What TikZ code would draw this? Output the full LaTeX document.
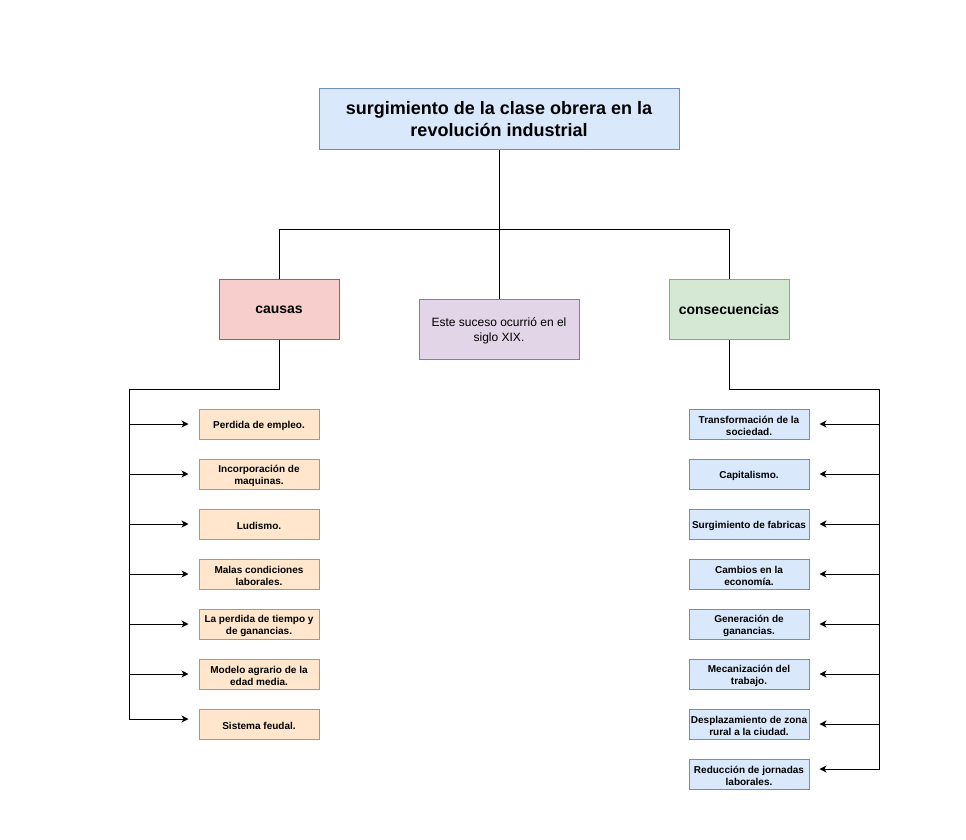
\documentclass[tikz,border=0pt]{standalone}
\usepackage{fontspec}
\setmainfont{Liberation Sans}
\usetikzlibrary{arrows.meta}
\definecolor{bluefill}{HTML}{DAE8FC}\definecolor{bluedraw}{HTML}{6C8EBF}
\definecolor{redfill}{HTML}{F8CECC}\definecolor{reddraw}{HTML}{B85450}
\definecolor{purplefill}{HTML}{E1D5E7}\definecolor{purpledraw}{HTML}{9673A6}
\definecolor{greenfill}{HTML}{D5E8D4}\definecolor{greendraw}{HTML}{82B366}
\definecolor{orangefill}{HTML}{FFE6CC}\definecolor{orangedraw}{HTML}{D79B00}
% invisible strut that sets the height of a first text line
\newcommand\lift[1]{\rule{0pt}{#1}}
\newcommand\ilift{\lift{11pt}}
\begin{document}
\begin{tikzpicture}[x=1pt,y=-1pt,
  base/.style={draw, line width=1pt, inner sep=0pt, align=center},
  titlebox/.style={base, fill=bluefill, draw=bluedraw, minimum width=360pt, minimum height=60pt,
    font=\fontsize{18}{22}\selectfont\bfseries},
  headbox/.style={base, minimum width=120pt, minimum height=60pt,
    font=\fontsize{14}{17}\selectfont\bfseries},
  notebox/.style={base, fill=purplefill, draw=purpledraw, minimum width=160pt, minimum height=60pt,
    font=\fontsize{12}{15}\selectfont},
  itembox/.style={base, minimum width=120pt, minimum height=30pt,
    font=\fontsize{10}{12}\selectfont\bfseries},
  causebox/.style={itembox, fill=orangefill, draw=orangedraw},
  effectbox/.style={itembox, fill=bluefill, draw=bluedraw},
  link/.style={line width=1pt},
  arr/.style={line width=1pt, -{Stealth[length=7pt,width=7pt,inset=2pt]}, shorten >=10pt}]

\useasboundingbox (0,0) rectangle (966,840);

% main nodes
\node[titlebox] (title) at (499,119) {surgimiento de la clase obrera en la\\revolución industrial};
\node[headbox, fill=redfill, draw=reddraw] (causas) at (279,309) {\lift{8.5pt}causas};
\node[notebox] (note) at (499,329) {\lift{11.6pt}Este suceso ocurrió en el\\siglo XIX.};
\node[headbox, fill=greenfill, draw=greendraw] (cons) at (729,309) {\lift{11pt}consecuencias};

% causes
\node[causebox] (c1) at (259,424) {\ilift Perdida de empleo.};
\node[causebox] (c2) at (259,474) {\ilift Incorporación de\\maquinas.};
\node[causebox] (c3) at (259,524) {\ilift Ludismo.};
\node[causebox] (c4) at (259,574) {\ilift Malas condiciones\\laborales.};
\node[causebox] (c5) at (259,624) {\ilift La perdida de tiempo y\\de ganancias.};
\node[causebox] (c6) at (259,674) {\ilift Modelo agrario de la\\edad media.};
\node[causebox] (c7) at (259,724) {\ilift Sistema feudal.};

% consequences
\node[effectbox] (e1) at (749,424) {\ilift Transformación de la\\sociedad.};
\node[effectbox] (e2) at (749,474) {\ilift Capitalismo.};
\node[effectbox] (e3) at (749,524) {\ilift Surgimiento de fabricas};
\node[effectbox] (e4) at (749,574) {\ilift Cambios en la\\economía.};
\node[effectbox] (e5) at (749,624) {\ilift Generación de\\ganancias.};
\node[effectbox] (e6) at (749,674) {\ilift Mecanización del\\trabajo.};
\node[effectbox] (e7) at (749,724) {\ilift Desplazamiento de zona\\rural a la ciudad.};
\node[effectbox] (e8) at (749,774) {\ilift Reducción de jornadas\\laborales.};

% tree from the title
\coordinate (hub) at (499,229);
\draw[link] (title.south) -- (note.north);
\draw[link] (hub) -| (causas.north);
\draw[link] (hub) -| (cons.north);

% causes bus
\coordinate (lt) at (129,389);
\draw[arr] (causas.south) |- (lt) |- ([yshift=5pt]c7.west);
\foreach \i in {1,...,6} \draw[arr] (c\i.west -| lt) -- (c\i.west);

% consequences bus
\coordinate (rt) at (879,389);
\draw[arr] (cons.south) |- (rt) |- ([yshift=5pt]e8.east);
\foreach \i in {1,...,7} \draw[arr] (e\i.east -| rt) -- (e\i.east);
\end{tikzpicture}
\end{document}
